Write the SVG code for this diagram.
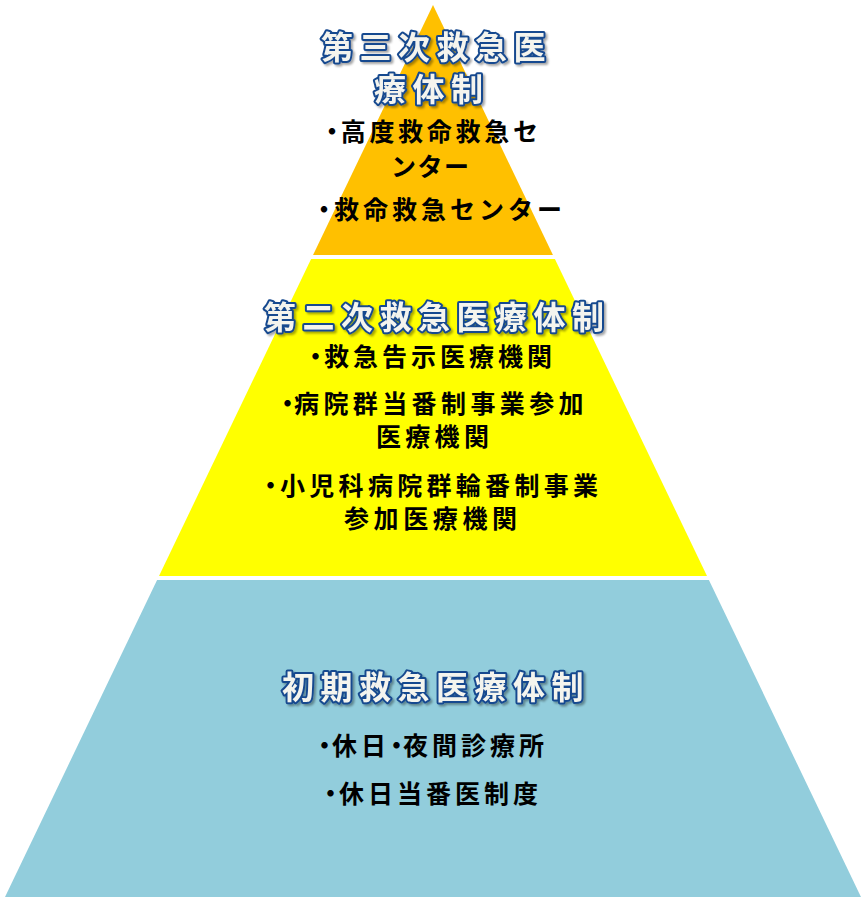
<svg xmlns="http://www.w3.org/2000/svg" width="866" height="902" viewBox="0 0 866 902">
<defs>
<filter id="sh" x="-10%" y="-30%" width="120%" height="160%">
<feDropShadow dx="2" dy="2" stdDeviation="1.2" flood-color="#000" flood-opacity="0.35"/>
</filter>
<style>
.title{font-family:"Noto Sans CJK JP","Noto Sans CJK SC",sans-serif;font-size:32px;font-weight:700;fill:#F4F4EE;stroke:#17498F;stroke-width:4;stroke-linejoin:round;paint-order:stroke;letter-spacing:6.5px;filter:url(#sh)}
.body{font-family:"Noto Sans CJK JP","Noto Sans CJK SC",sans-serif;font-size:25px;font-weight:700;fill:#000;letter-spacing:4px}
</style>
</defs>
<rect width="866" height="902" fill="#FFFFFF"/>
<g id="tier-tertiary">
<polygon points="433,5 552.95,255 313.05,255" fill="#FFC000"/>
<text class="title"><tspan x="321" y="59">第三次救急医</tspan><tspan x="374" y="101">療体制</tspan></text>
<text class="body"><tspan x="319.5" y="141" letter-spacing="-3.8">・</tspan><tspan letter-spacing="3.7">高度救命救急セ</tspan><tspan x="391" y="176" letter-spacing="1.5">ンター</tspan></text>
<text class="body" x="311.5" y="219" letter-spacing="1.9"><tspan letter-spacing="-2.5">・</tspan>救命救急センター</text>
</g>
<g id="tier-secondary">
<polygon points="311.1,259 554.9,259 707,576 159,576" fill="#FFFF00"/>
<text class="title" x="264" y="329">第二次救急医療体制</text>
<text class="body" x="303" y="366" letter-spacing="4.6"><tspan letter-spacing="-4">・</tspan>救急告示医療機関</text>
<text class="body"><tspan x="275" y="413" letter-spacing="-6">・</tspan><tspan letter-spacing="4.4">病院群当番制事業参加</tspan><tspan x="376" y="446" letter-spacing="4.3">医療機関</tspan></text>
<text class="body"><tspan x="258" y="494.5" letter-spacing="-3">・</tspan><tspan letter-spacing="4.3">小児科病院群輪番制事業</tspan><tspan x="344" y="528" letter-spacing="4.6">参加医療機関</tspan></text>
</g>
<g id="tier-primary">
<polygon points="157.1,580 708.9,580 861,897 5,897" fill="#92CDDC"/>
<text class="title" x="282" y="699">初期救急医療体制</text>
<text class="body" x="312" y="755" letter-spacing="4"><tspan letter-spacing="-5">・</tspan>休<tspan letter-spacing="-2">日</tspan><tspan letter-spacing="-6">・</tspan>夜間診療所</text>
<text class="body" x="318" y="803" letter-spacing="4.2"><tspan letter-spacing="-4">・</tspan>休日当番医制度</text>
</g>
</svg>
